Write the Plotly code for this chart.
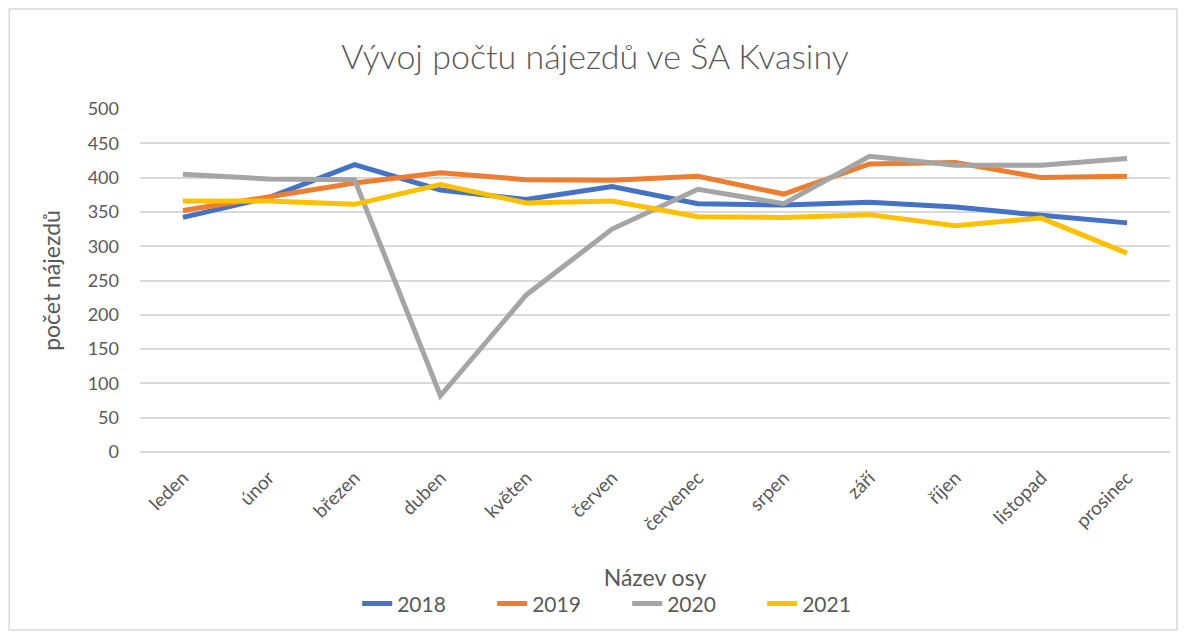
"""Vývoj počtu nájezdů ve ŠA Kvasiny - line chart per year"""
import plotly.graph_objects as go

# months on the x axis
months = ["leden", "únor", "březen", "duben", "květen", "červen",
          "červenec", "srpen", "září", "říjen", "listopad", "prosinec"]

# monthly counts per year
y2018 = [342, 371, 419, 382, 368, 387, 362, 360, 364, 357, 345, 334]
y2019 = [352, 372, 392, 407, 397, 396, 402, 376, 420, 422, 400, 402]
y2020 = [405, 398, 397, 82, 229, 325, 383, 362, 431, 418, 418, 428]
y2021 = [366, 366, 361, 390, 363, 366, 343, 342, 346, 330, 341, 290]

years = ["2018", "2019", "2020", "2021"]
colors = ["#4472C4", "#ED7D31", "#A5A5A5", "#FFC000"]

FONT = "Lato"
GREY = "#595959"

fig = go.Figure()

#One line per year
for name, vals, col in zip(years, [y2018, y2019, y2020, y2021], colors):
    fig.add_trace(go.Scatter(x=months, y=vals, name=name, mode="lines",
                             line={"color": col, "width": 5}))

fig.update_layout(
    width=1190, height=637,
    margin={"l": 140, "r": 20, "t": 109, "b": 185},
    paper_bgcolor="white", plot_bgcolor="white",
    font={"family": FONT, "color": GREY, "size": 18},
    title={"text": "Vývoj počtu nájezdů ve ŠA Kvasiny", "x": 0.5, "xanchor": "center",
           "y": 0.91, "yanchor": "middle", "font": {"size": 34, "color": GREY, "weight": 300}},
    xaxis={"tickangle": -45, "showgrid": False, "showline": False, "range": [-0.5, 11.5],
           "ticklabelstandoff": 10, "tickfont": {"size": 19, "color": GREY},
           "title": {"text": "Název osy", "standoff": 35, "font": {"size": 23, "color": GREY}}},
    yaxis={"range": [0, 500], "dtick": 50, "showgrid": True, "gridcolor": "#D9D9D9",
           "gridwidth": 1.5, "zeroline": True, "zerolinecolor": "#D9D9D9", "zerolinewidth": 1.5,
           "ticklabelstandoff": 20, "tickfont": {"size": 18, "color": GREY},
           "title": {"text": "počet nájezdů", "standoff": 20, "font": {"size": 23, "color": GREY}}},
    legend={"orientation": "h", "x": 0.473, "xanchor": "center", "y": -0.443, "yanchor": "middle",
            "font": {"size": 21, "color": GREY}, "entrywidth": 90, "entrywidthmode": "pixels",
            "traceorder": "normal"},
    showlegend=True,
)

#Chart area border
fig.add_shape(type="rect", xref="paper", yref="paper",
              x0=-0.127, x1=1.0068, y0=-0.519, y1=1.2915,
              line={"color": "#D9D9D9", "width": 1.5}, layer="below")

fig.write_html("out.html", config={"displayModeBar": False},
               post_script="document.body.style.margin='0';")
